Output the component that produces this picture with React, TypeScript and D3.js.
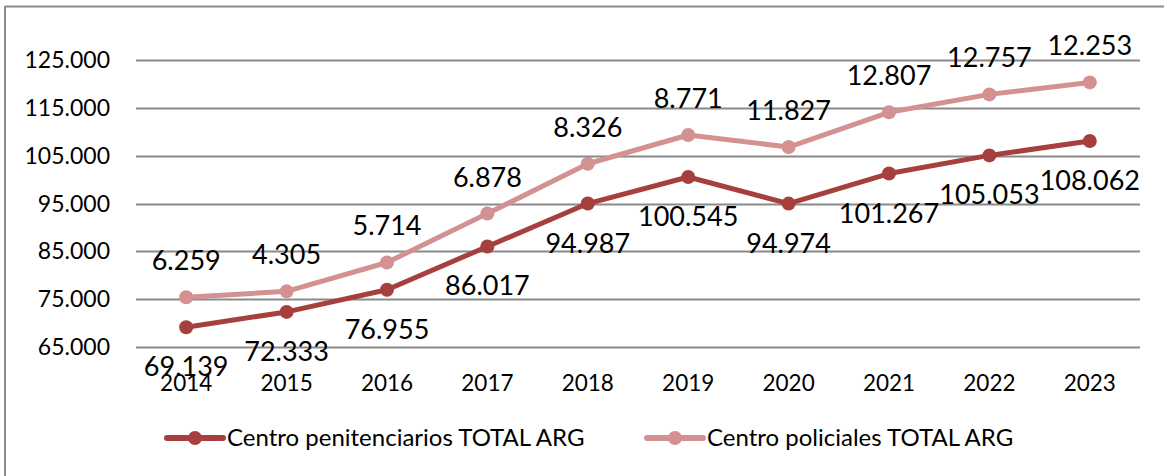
import React from "react";
import * as d3 from "d3";

const years = ["2014", "2015", "2016", "2017", "2018", "2019", "2020", "2021", "2022", "2023"];
const penitenciarios = [69139, 72333, 76955, 86017, 94987, 100545, 94974, 101267, 105053, 108062];
const policiales = [6259, 4305, 5714, 6878, 8326, 8771, 11827, 12807, 12757, 12253];
const yTicks = [65000, 75000, 85000, 95000, 105000, 115000, 125000];
const seriesNames = ["Centro penitenciarios TOTAL ARG", "Centro policiales TOTAL ARG"];

const W = 1164;
const H = 476;
const plot = { left: 136, right: 1140, top: 60, bottom: 347 };
const darkColor = "#A5403E";
const lightColor = "#D39191";
const FONT = "Lato, 'Open Sans', sans-serif";

const fmt = (v: number) => d3.format(",")(v).replace(/,/g, ".");

export default function App() {
  const x = d3.scaleBand<string>().domain(years).range([plot.left, plot.right]);
  const y = d3.scaleLinear().domain([65000, 125000]).range([plot.bottom, plot.top]);
  const cx = (yr: string) => (x(yr) as number) + x.bandwidth() / 2;

  const stacked = penitenciarios.map((v, i) => v + policiales[i]);
  const line = d3
    .line<number>()
    .x((_, i) => cx(years[i]))
    .y((d) => y(d));

  return (
    <svg
      width={W}
      height={H}
      style={{ position: "absolute", left: 0, top: 0, background: "#fff" }}
      fontFamily={FONT}
    >
      <rect x={0} y={0} width={W} height={H} fill="#fff" />
      {/* chart border (top and left visible) */}
      <line x1={5} x2={W} y1={6.5} y2={6.5} stroke="#8c8c8c" strokeWidth={2} />
      <line x1={5} x2={5} y1={6} y2={H} stroke="#8c8c8c" strokeWidth={2} />

      {/* gridlines */}
      {yTicks.map((t) => (
        <g key={t}>
          <line
            x1={plot.left}
            x2={plot.right}
            y1={Math.round(y(t)) + 0.5}
            y2={Math.round(y(t)) + 0.5}
            stroke="#8a8a8a"
            strokeWidth={2}
          />
          <text x={110} y={y(t) + 8} textAnchor="end" fontSize={23} fill="#000">
            {fmt(t)}
          </text>
        </g>
      ))}

      {/* x labels */}
      {years.map((yr) => (
        <text key={yr} x={cx(yr)} y={391} textAnchor="middle" fontSize={22.5} fill="#000">
          {yr}
        </text>
      ))}

      {/* lines */}
      <path d={line(stacked) || ""} fill="none" stroke={lightColor} strokeWidth={5} strokeLinejoin="round" />
      <path d={line(penitenciarios) || ""} fill="none" stroke={darkColor} strokeWidth={5} strokeLinejoin="round" />
      {stacked.map((v, i) => (
        <circle key={"l" + i} cx={cx(years[i])} cy={y(v)} r={7} fill={lightColor} />
      ))}
      {penitenciarios.map((v, i) => (
        <circle key={"d" + i} cx={cx(years[i])} cy={y(v)} r={7} fill={darkColor} />
      ))}

      {/* data labels */}
      {stacked.map((v, i) => (
        <text key={"tl" + i} x={cx(years[i])} y={y(v) - 27} textAnchor="middle" fontSize={27} fill="#000">
          {fmt(policiales[i])}
        </text>
      ))}
      {penitenciarios.map((v, i) => (
        <text key={"td" + i} x={cx(years[i])} y={y(v) + 49} textAnchor="middle" fontSize={27} fill="#000">
          {fmt(v)}
        </text>
      ))}

      {/* legend */}
      {[
        { name: seriesNames[0], color: darkColor, x0: 167 },
        { name: seriesNames[1], color: lightColor, x0: 647 },
      ].map((l) => (
        <g key={l.name}>
          <line x1={l.x0} x2={l.x0 + 56} y1={438} y2={438} stroke={l.color} strokeWidth={6} strokeLinecap="round" />
          <circle cx={l.x0 + 28} cy={438} r={7} fill={l.color} />
          <text x={l.x0 + 60} y={446} fontSize={24} fill="#000">
            {l.name}
          </text>
        </g>
      ))}
    </svg>
  );
}
